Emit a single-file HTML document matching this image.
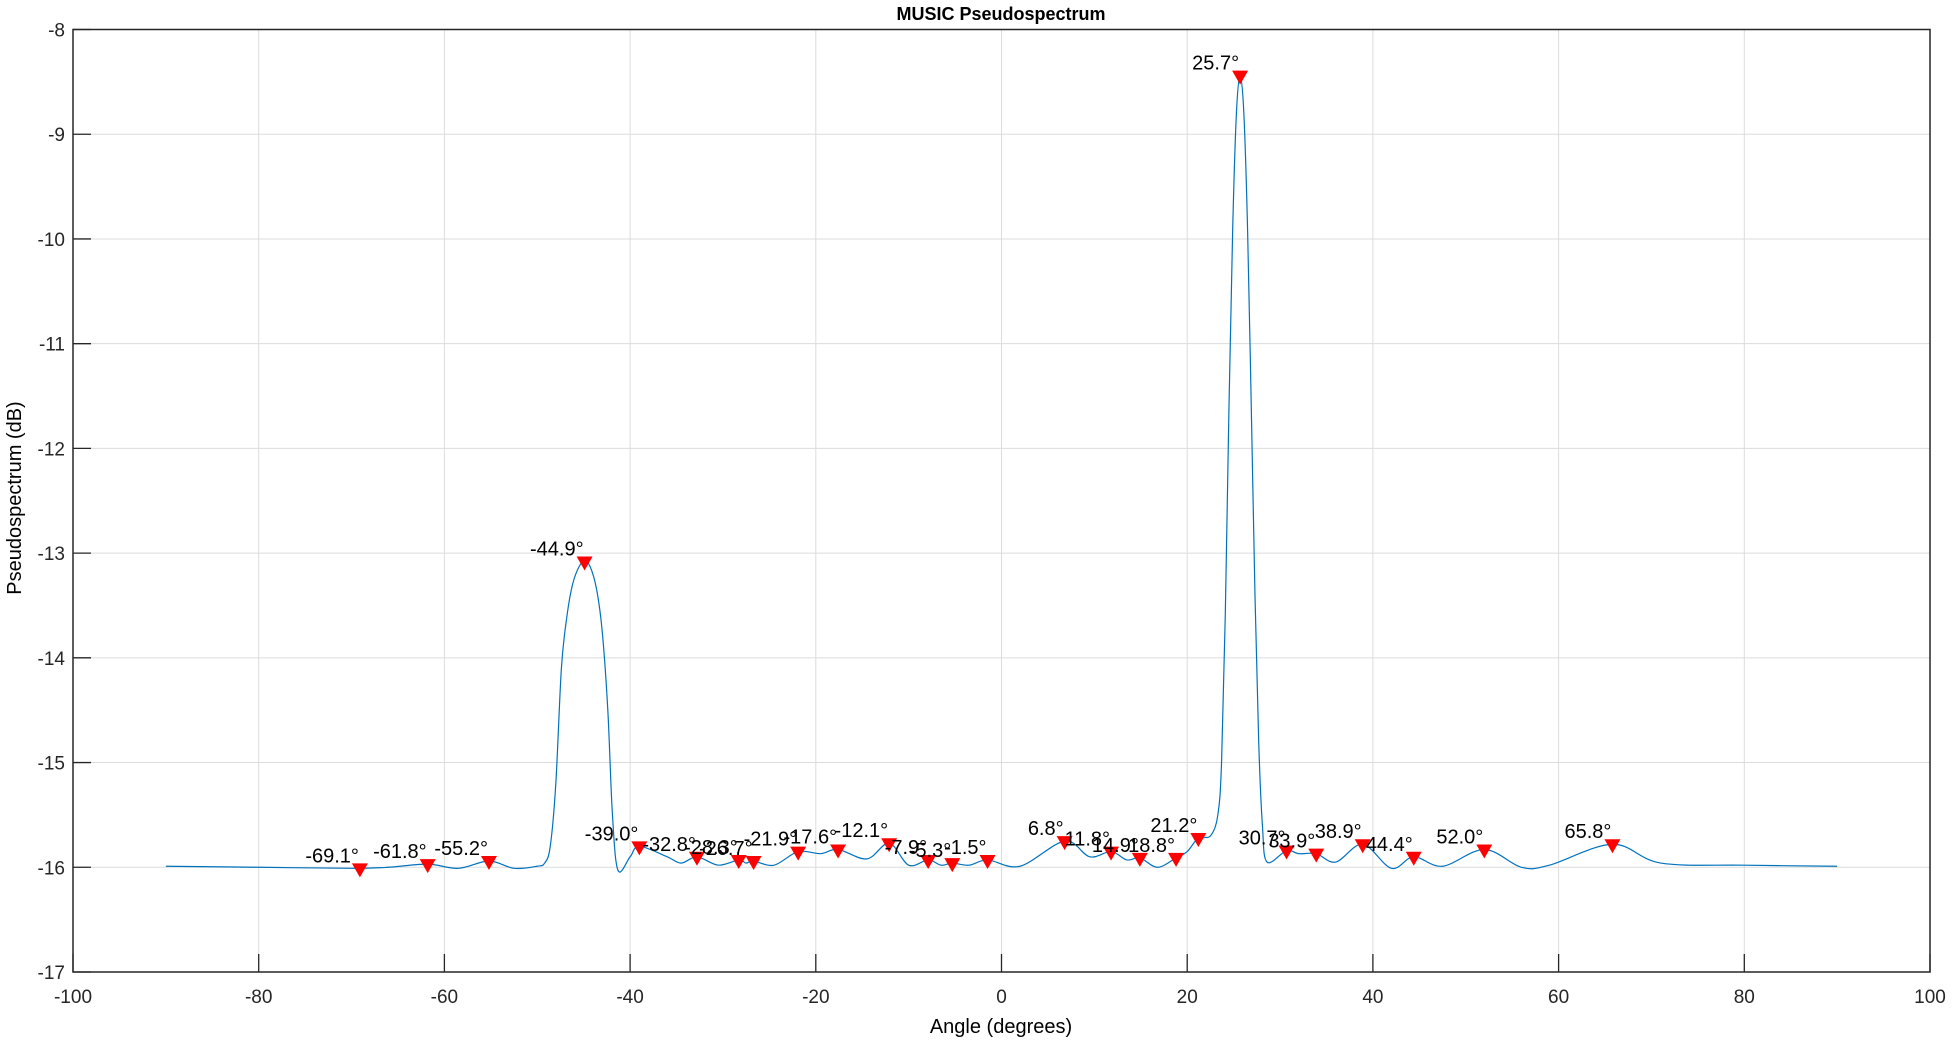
<!DOCTYPE html>
<html><head><meta charset="utf-8"><style>
html,body{margin:0;padding:0;background:#fff;}
svg{display:block;font-family:"Liberation Sans",Arial,sans-serif;}
</style></head><body>
<svg id="chart" width="1952" height="1041" viewBox="0 0 1952 1041" xmlns="http://www.w3.org/2000/svg">
<rect x="0" y="0" width="1952" height="1041" fill="#fff"/>
<g id="grid"></g>
<g id="series"></g>
<g id="peaks"></g>
<g id="axes"></g>
<text x="1001" y="20" text-anchor="middle" font-size="18" font-weight="bold">MUSIC Pseudospectrum</text>
<text x="1001" y="1033" text-anchor="middle" font-size="20">Angle (degrees)</text>
<text transform="translate(21,498) rotate(-90)" text-anchor="middle" font-size="20">Pseudospectrum (dB)</text>
</svg>
<script>
const xTicks=[-100,-80,-60,-40,-20,0,20,40,60,80,100];
const yTicks=[-8,-9,-10,-11,-12,-13,-14,-15,-16,-17];
const curveAngles=[-90,-80,-70,-66,-61.8,-58.5,-55.2,-52.5,-50,-49.2,-48.6,-48.0,-47.4,-46.8,-46.2,-45.5,-44.9,-44.3,-43.6,-43.0,-42.4,-41.9,-41.3,-40,-39.0,-36,-34.5,-32.8,-30.5,-28.3,-27.5,-26.7,-24.5,-21.9,-19.5,-17.6,-14.5,-12.1,-10,-7.9,-6.5,-5.3,-3.5,-1.5,2,6.8,9.5,11.8,13.5,14.9,16.8,18.8,20.0,21.2,22.5,23.3,23.7,24.1,24.5,24.9,25.3,25.7,26.1,26.5,26.9,27.3,27.7,28.1,28.6,30.7,32,33.9,36,38.9,42,44.4,47.5,52.0,56,59,65.8,71,80,90];
const curveValues=[-15.99,-16.0,-16.01,-16.0,-15.97,-16.01,-15.94,-16.01,-15.99,-15.96,-15.8,-15.2,-14.1,-13.6,-13.3,-13.13,-13.08,-13.13,-13.35,-13.75,-14.5,-15.5,-16.03,-15.9,-15.80,-15.9,-15.96,-15.90,-15.98,-15.93,-15.96,-15.94,-15.98,-15.85,-15.87,-15.83,-15.92,-15.77,-15.98,-15.93,-15.98,-15.96,-15.98,-15.93,-15.99,-15.75,-15.9,-15.85,-15.93,-15.91,-16.0,-15.91,-15.85,-15.72,-15.7,-15.5,-15.0,-13.6,-11.6,-9.9,-8.8,-8.44,-8.8,-9.9,-11.6,-13.4,-14.8,-15.6,-15.95,-15.84,-15.87,-15.87,-15.95,-15.78,-16.01,-15.90,-15.99,-15.83,-16.0,-15.98,-15.78,-15.96,-15.98,-15.99];
const peakAngles=[-69.1,-61.8,-55.2,-44.9,-39.0,-32.8,-28.3,-26.7,-21.9,-17.6,-12.1,-7.9,-5.3,-1.5,6.8,11.8,14.9,18.8,21.2,25.7,30.7,33.9,38.9,44.4,52.0,65.8];
const peakValues=[-16.01,-15.97,-15.94,-13.08,-15.80,-15.90,-15.93,-15.94,-15.85,-15.83,-15.77,-15.93,-15.96,-15.93,-15.75,-15.85,-15.91,-15.91,-15.72,-8.44,-15.84,-15.87,-15.78,-15.90,-15.83,-15.78];
const peakLabels=["-69.1°","-61.8°","-55.2°","-44.9°","-39.0°","-32.8°","-28.3°","-26.7°","-21.9°","-17.6°","-12.1°","-7.9°","-5.3°","-1.5°","6.8°","11.8°","14.9°","18.8°","21.2°","25.7°","30.7°","33.9°","38.9°","44.4°","52.0°","65.8°"];

const L=73,R=1930,T=29.5,B=972;
const X=v=>L+(v+100)/200*(R-L);
const Y=v=>T+(-8-v)/9*(B-T);
const NS="http://www.w3.org/2000/svg";
function mk(tag,attrs,parent){const e=document.createElementNS(NS,tag);for(const k in attrs)e.setAttribute(k,attrs[k]);parent.appendChild(e);return e;}
const grid=document.getElementById('grid'),axes=document.getElementById('axes'),series=document.getElementById('series'),peaks=document.getElementById('peaks');
xTicks.forEach(t=>{
  const gl=mk('line',{x1:X(t),x2:X(t),y1:T,y2:B,stroke:'#dcdcdc','stroke-width':1},grid);
  
  
  const tk=mk('line',{x1:X(t),x2:X(t),y1:B,y2:B-18,stroke:'#262626','stroke-width':1.3},axes);
  
  
  const tl=mk('text',{x:X(t),y:B+31,'text-anchor':'middle','font-size':19,fill:'#262626'},axes);
  tl.textContent=t;
  
  
});
yTicks.forEach(t=>{
  const gl=mk('line',{x1:L,x2:R,y1:Y(t),y2:Y(t),stroke:'#dcdcdc','stroke-width':1},grid);
  
  
  const tk=mk('line',{x1:L,x2:L+18,y1:Y(t),y2:Y(t),stroke:'#262626','stroke-width':1.3},axes);
  
  
  const tl=mk('text',{x:L-8,y:Y(t)+7,'text-anchor':'end','font-size':19,fill:'#262626'},axes);
  tl.textContent=t;
  
  
});
const frame=mk('rect',{x:L,y:T,width:R-L,height:B-T,fill:'none',stroke:'#262626','stroke-width':1.5},axes);


const P=curveAngles.map((a,i)=>[X(a),Y(curveValues[i])]);
let d='M'+P[0][0]+','+P[0][1];
for(let i=0;i<P.length-1;i++){
  const p0=P[Math.max(0,i-1)],p1=P[i],p2=P[i+1],p3=P[Math.min(P.length-1,i+2)];
  const c1=[p1[0]+(p2[0]-p0[0])/6,p1[1]+(p2[1]-p0[1])/6];
  const c2=[p2[0]-(p3[0]-p1[0])/6,p2[1]-(p3[1]-p1[1])/6];
  d+=' C'+c1[0]+','+c1[1]+' '+c2[0]+','+c2[1]+' '+p2[0]+','+p2[1];
}
const line=mk('path',{d:d,fill:'none',stroke:'#0072bd','stroke-width':1.2},series);


peakAngles.forEach((a,i)=>{
  const px=X(a),py=Y(peakValues[i])+2;
  const tri=mk('polygon',{points:(px-8)+','+(py-7)+' '+(px+8)+','+(py-7)+' '+px+','+(py+7),fill:'#ff0000'},peaks);
  
  
  const lb=mk('text',{x:px-1,y:py-8,'text-anchor':'end','font-size':20,fill:'#000'},peaks);
  lb.textContent=peakLabels[i];
  
  
});
</script>
</body></html>
